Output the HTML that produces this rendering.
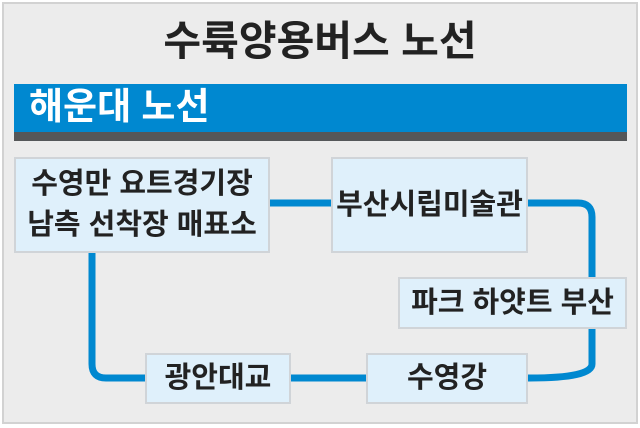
<!DOCTYPE html>
<html><head><meta charset="utf-8"><style>
html,body{margin:0;padding:0;}
body{width:640px;height:428px;position:relative;overflow:hidden;background:#fff;font-family:"Liberation Sans","Noto Sans CJK KR",sans-serif;}
.outer{position:absolute;left:2px;top:2px;width:632px;height:418px;background:#ececec;border:2px solid #d2d2d2;}
.title{position:absolute;left:0;width:640px;top:15px;text-align:center;font-size:41px;font-weight:700;color:#222;line-height:52px;}
.bar{position:absolute;left:14px;top:84px;width:613px;height:48px;background:#0088d0;}
.dark{position:absolute;left:14px;top:132px;width:613px;height:9px;background:#555759;}
.bartxt{position:absolute;left:29px;top:83px;line-height:48px;font-size:37px;color:#fff;font-weight:700;}
.box{position:absolute;background:#dff0fb;border:2px solid #d0d4d8;box-sizing:border-box;display:flex;align-items:center;justify-content:center;text-align:center;font-size:29px;font-weight:700;color:#222;line-height:41px;white-space:nowrap;}
svg{position:absolute;left:0;top:0;}
</style></head><body>
<div class="outer"></div>
<div class="title">수륙양용버스 노선</div>
<div class="bar"></div><div class="dark"></div>
<div class="bartxt">해운대 노선</div>
<svg width="640" height="428"><path d="M92 250 V364 Q92 378 106 378 H530 Q592 378 592 364 V217 Q592 203 578 203 H260" fill="none" stroke="#0088d0" stroke-width="7"/></svg>
<div class="box" style="left:14px;top:157px;width:256px;height:96px;">수영만 요트경기장<br>남측 선착장 매표소</div>
<div class="box" style="left:331px;top:157px;width:197px;height:96px;">부산시립미술관</div>
<div class="box" style="left:398px;top:277px;width:229px;height:52px;">파크 하얏트 부산</div>
<div class="box" style="left:145px;top:353px;width:146px;height:51px;">광안대교</div>
<div class="box" style="left:366px;top:353px;width:162px;height:51px;">수영강</div>
</body></html>
